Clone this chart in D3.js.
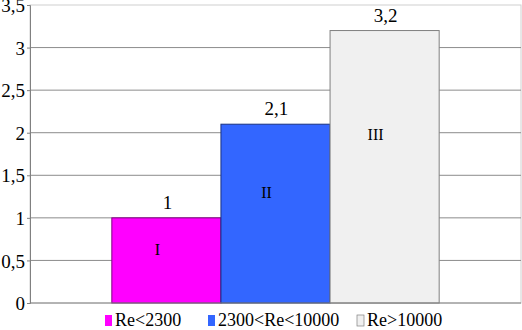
<!DOCTYPE html>
<html>
<head>
<meta charset="utf-8">
<script src="https://cdn.jsdelivr.net/npm/d3@7"></script>
<style>
  body { margin: 0; background: #fff; }
  svg text { font-family: "Liberation Serif", "DejaVu Serif", serif; fill: #000; }
</style>
</head>
<body>
<div id="chart"></div>
<script>
// Series data
const seriesNames = ["Re<2300", "2300<Re<10000", "Re>10000"];
const seriesValues = [1, 2.1, 3.2];
const seriesColors = ["#ff00ff", "#3366ff", "#f0f0f0"];
const seriesStrokes = ["#800080", "#1a3380", "#808080"];
const valueLabels = ["1", "2,1", "3,2"];

// Roman numeral annotations inside the bars (value-unit heights)
const zoneLabels = ["I", "II", "III"];
const zoneLabelY = [0.64, 1.3, 1.98];

const yTicks = [0, 0.5, 1, 1.5, 2, 2.5, 3, 3.5];

const W = 522, H = 330;
const margin = { top: 5, right: 1, bottom: 27, left: 30 };
const width = W - margin.left - margin.right;
const height = H - margin.top - margin.bottom;
const serif = "'Liberation Serif', 'DejaVu Serif', serif";

const svg = d3.select("#chart").append("svg")
    .attr("width", W)
    .attr("height", H)
    .attr("font-family", serif);

const g = svg.append("g")
    .attr("transform", `translate(${margin.left},${margin.top})`);

const y = d3.scaleLinear().domain([0, 3.5]).range([height, 0]);

// one category, three series side by side
const xCat = d3.scaleBand().domain(["all"]).range([0, width]).paddingOuter(0.25).paddingInner(0);
const xSer = d3.scaleBand().domain(seriesNames).range([0, xCat.bandwidth()]).padding(0);

const fmt = d => String(d).replace(".", ",");

// plot frame (light)
g.append("rect")
    .attr("x", 0).attr("y", 0)
    .attr("width", width).attr("height", height)
    .attr("fill", "none")
    .attr("stroke", "#d0d0d0");

// gridlines
g.selectAll(".grid")
    .data(yTicks.filter(t => t > 0 && t < 3.5))
    .join("line")
    .attr("class", "grid")
    .attr("x1", 0).attr("x2", width)
    .attr("y1", d => y(d)).attr("y2", d => y(d))
    .attr("stroke", "#8c8c8c")
    .attr("stroke-width", 1);

// y axis
const yAxis = d3.axisLeft(y).tickValues(yTicks).tickFormat(fmt).tickSize(3).tickPadding(2);
const ya = g.append("g").call(yAxis).attr("font-family", serif).attr("font-size", 19);
ya.select(".domain").attr("stroke", "#808080");
ya.selectAll(".tick line").attr("stroke", "#808080");
ya.selectAll(".tick text")
    .style("font-family", serif)
    .style("font-size", "19px")
    .attr("dy", "0.35em");

// bars
const bars = g.append("g").attr("transform", `translate(${xCat("all")},0)`);
bars.selectAll("rect")
    .data(seriesNames)
    .join("rect")
    .attr("x", d => xSer(d))
    .attr("y", (d, i) => y(seriesValues[i]))
    .attr("width", xSer.bandwidth())
    .attr("height", (d, i) => height - y(seriesValues[i]))
    .attr("fill", (d, i) => seriesColors[i])
    .attr("stroke", (d, i) => seriesStrokes[i])
    .attr("stroke-width", 1);

// value labels above bars
bars.selectAll(".val")
    .data(seriesNames)
    .join("text")
    .attr("class", "val")
    .attr("x", d => xSer(d) + xSer.bandwidth() / 2 + 1)
    .attr("y", (d, i) => y(seriesValues[i]) - 9)
    .attr("text-anchor", "middle")
    .style("font-size", "19px")
    .text((d, i) => valueLabels[i]);

// roman numerals inside bars
bars.selectAll(".zone")
    .data(seriesNames)
    .join("text")
    .attr("class", "zone")
    .attr("x", d => xSer(d) + xSer.bandwidth() / 2 - 9)
    .attr("y", (d, i) => y(zoneLabelY[i]) + 6)
    .attr("text-anchor", "middle")
    .style("font-size", "16px")
    .text((d, i) => zoneLabels[i]);

// x axis base line
g.append("line")
    .attr("x1", 0).attr("x2", width)
    .attr("y1", height).attr("y2", height)
    .attr("stroke", "#808080");

// legend
const legendX = [105, 208, 357];
const legend = svg.append("g").attr("transform", `translate(0,${H - 15})`);
const items = legend.selectAll("g")
    .data(seriesNames)
    .join("g")
    .attr("transform", (d, i) => `translate(${legendX[i]},0)`);
items.append("rect")
    .attr("x", 0).attr("y", 0)
    .attr("width", 7).attr("height", 11)
    .attr("fill", (d, i) => seriesColors[i])
    .attr("stroke", (d, i) => i === 2 ? "#808080" : "none")
    .attr("stroke-width", 0.7);
items.append("text")
    .attr("x", 10)
    .attr("y", 11)
    .style("font-size", "18px")
    .text(d => d);
</script>
</body>
</html>
